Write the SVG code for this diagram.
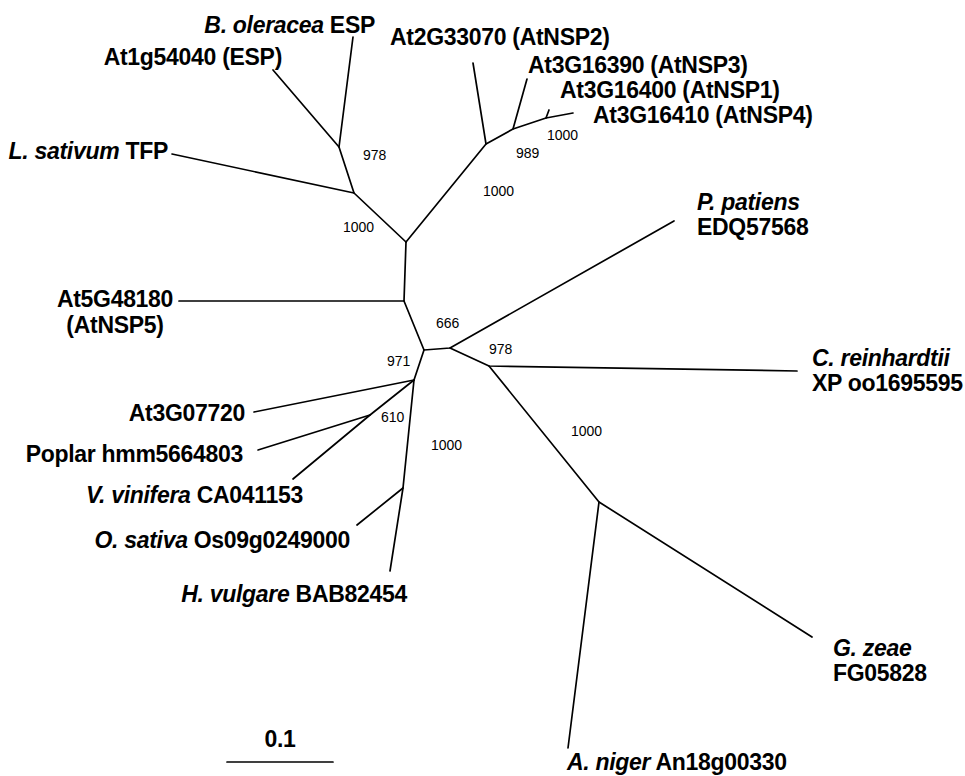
<svg xmlns="http://www.w3.org/2000/svg" width="965" height="776" viewBox="0 0 965 776">
<style>
.lbl{font-family:"Liberation Sans",Arial,sans-serif;font-size:23px;letter-spacing:-0.3px;font-weight:bold;fill:#000}
.it{font-style:italic}
.bs{font-family:"Liberation Sans",Arial,sans-serif;font-size:14px;fill:#000}
.br{stroke:#000;stroke-width:1.7;fill:none;stroke-linecap:round;stroke-linejoin:round}
</style>
<rect width="965" height="776" fill="#fff"/>
<g id="connectors" class="br">
<path d="M406,242 L354,193 L339,147 L273,70"/>
<path d="M339,147 L353,37"/>
<path d="M354,193 L172,154"/>
<path d="M406,242 L486,144 L473,63"/>
<path d="M486,144 L513,129 L527,79"/>
<path d="M513,129 L546,118 L573,113"/>
<path d="M546,118 L549,110"/>
<path d="M406,242 L404,301 L179,301"/>
<path d="M404,301 L424,350 L450,348 L674,221"/>
<path d="M450,348 L489,366 L797,371"/>
<path d="M489,366 L599,502 L812,637"/>
<path d="M599,502 L568,748"/>
<path d="M424,350 L414,380 L254,412"/>
<path d="M414,380 L370,415 L258,450"/>
<path d="M370,415 L293,479"/>
<path d="M414,380 L403,488 L390,571"/>
<path d="M403,488 L357,525"/>
<path d="M227,762 L333,762"/>
</g>
<g id="bootstrap" class="bs">
<text x="363" y="160">978</text>
<text x="343" y="232">1000</text>
<text x="516" y="158">989</text>
<text x="547" y="140">1000</text>
<text x="483" y="196">1000</text>
<text x="436" y="328">666</text>
<text x="387" y="366">971</text>
<text x="489" y="354">978</text>
<text x="381" y="422">610</text>
<text x="431" y="450">1000</text>
<text x="571" y="436">1000</text>
</g>
<g id="n-boleracea"><text class="lbl" x="375" y="33" text-anchor="end"><tspan class="it">B. oleracea</tspan> ESP</text></g>
<g id="n-at1g54040"><text class="lbl" x="282" y="65" text-anchor="end">At1g54040 (ESP)</text></g>
<g id="n-lsativum"><text class="lbl" x="168" y="159" text-anchor="end"><tspan class="it">L. sativum</tspan> TFP</text></g>
<g id="n-atnsp2"><text class="lbl" x="390" y="45">At2G33070 (AtNSP2)</text></g>
<g id="n-atnsp3"><text class="lbl" x="528" y="73">At3G16390 (AtNSP3)</text></g>
<g id="n-atnsp1"><text class="lbl" x="560" y="98">At3G16400 (AtNSP1)</text></g>
<g id="n-atnsp4"><text class="lbl" x="593" y="123">At3G16410 (AtNSP4)</text></g>
<g id="n-ppatiens"><text class="lbl" x="697" y="210"><tspan class="it">P. patiens</tspan></text><text class="lbl" x="697" y="235">EDQ57568</text></g>
<g id="n-atnsp5"><text class="lbl" x="115" y="307" text-anchor="middle">At5G48180</text><text class="lbl" x="115" y="333" text-anchor="middle">(AtNSP5)</text></g>
<g id="n-creinhardtii"><text class="lbl" x="812" y="366"><tspan class="it">C. reinhardtii</tspan></text><text class="lbl" x="812" y="391">XP oo1695595</text></g>
<g id="n-at3g07720"><text class="lbl" x="245" y="421" text-anchor="end">At3G07720</text></g>
<g id="n-poplar"><text class="lbl" x="243" y="462" text-anchor="end">Poplar hmm5664803</text></g>
<g id="n-vvinifera"><text class="lbl" x="303" y="503" text-anchor="end"><tspan class="it">V. vinifera</tspan> CA041153</text></g>
<g id="n-osativa"><text class="lbl" x="350" y="548" text-anchor="end"><tspan class="it">O. sativa</tspan> Os09g0249000</text></g>
<g id="n-hvulgare"><text class="lbl" x="407" y="602" text-anchor="end"><tspan class="it">H. vulgare</tspan> BAB82454</text></g>
<g id="n-gzeae"><text class="lbl" x="833" y="656"><tspan class="it">G. zeae</tspan></text><text class="lbl" x="833" y="681">FG05828</text></g>
<g id="n-aniger"><text class="lbl" x="567" y="770"><tspan class="it">A. niger</tspan> An18g00330</text></g>
<g id="scale"><text class="lbl" x="280" y="747" text-anchor="middle">0.1</text></g>
</svg>
